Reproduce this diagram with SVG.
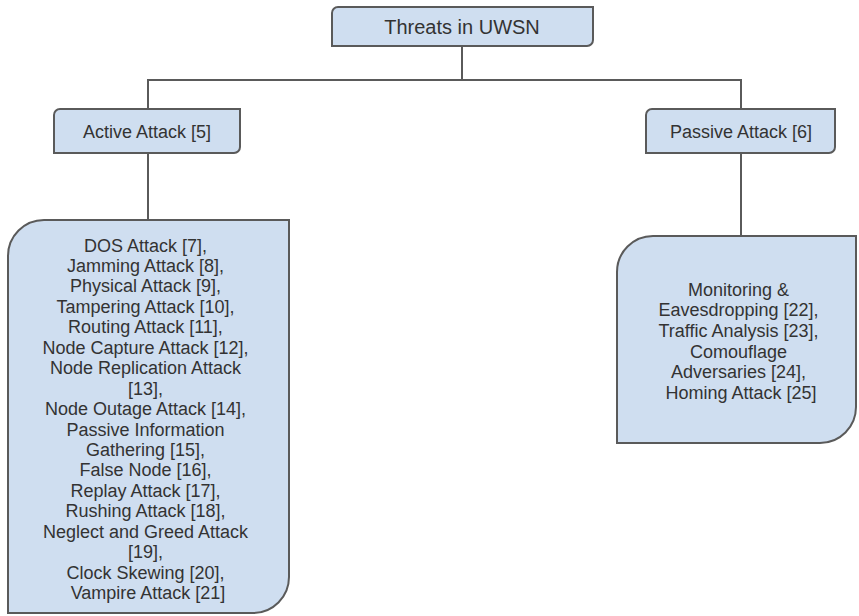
<svg xmlns="http://www.w3.org/2000/svg" width="859" height="616" viewBox="0 0 859 616">
  <style>
    .box { fill: #cfdef0; stroke: #5a5a5a; stroke-width: 2; }
    .lbl { font-family: "Liberation Sans", Arial, sans-serif; font-size: 18px; fill: #333; text-anchor: middle; }
    .wire { fill: none; stroke: #5a5a5a; stroke-width: 2; }
  </style>
  <rect width="859" height="616" fill="#ffffff"/>

  <!-- tree connectors -->
  <g id="connectors">
    <path class="wire" d="M462,46 V80"/>
    <path class="wire" d="M148,109 V80 H741 V109"/>
    <path class="wire" d="M148,153 V220"/>
    <path class="wire" d="M741,153 V236"/>
  </g>

  <!-- root -->
  <g id="threats">
    <path class="box" d="M338,7 H593 V40 A6,6 0 0 1 587,46 H332 V13 A6,6 0 0 1 338,7 Z"/>
    <text class="lbl" x="462" y="34" style="font-size:20px">Threats in UWSN</text>
  </g>

  <g id="active">
    <path class="box" d="M60,109 H240 V147 A6,6 0 0 1 234,153 H54 V115 A6,6 0 0 1 60,109 Z"/>
    <text class="lbl" x="147" y="138">Active Attack [5]</text>
  </g>

  <g id="passive">
    <path class="box" d="M652,109 H835 V147 A6,6 0 0 1 829,153 H646 V115 A6,6 0 0 1 652,109 Z"/>
    <text class="lbl" x="741" y="138">Passive Attack [6]</text>
  </g>

  <g id="active-list">
    <path class="box" d="M44,220 H289 V577 A36,36 0 0 1 253,613 H8 V256 A36,36 0 0 1 44,220 Z"/>
    <text class="lbl">
      <tspan x="148" y="251.5">DOS Attack [7],</tspan>
      <tspan x="148" y="271.9">Jamming Attack [8],</tspan>
      <tspan x="148" y="292.4">Physical Attack [9],</tspan>
      <tspan x="148" y="312.8">Tampering Attack [10],</tspan>
      <tspan x="148" y="333.3">Routing Attack [11],</tspan>
      <tspan x="148" y="353.7">Node Capture Attack [12],</tspan>
      <tspan x="148" y="374.2">Node Replication Attack</tspan>
      <tspan x="148" y="394.6">[13],</tspan>
      <tspan x="148" y="415.1">Node Outage Attack [14],</tspan>
      <tspan x="148" y="435.5">Passive Information</tspan>
      <tspan x="148" y="456.0">Gathering [15],</tspan>
      <tspan x="148" y="476.4">False Node [16],</tspan>
      <tspan x="148" y="496.9">Replay Attack [17],</tspan>
      <tspan x="148" y="517.3">Rushing Attack [18],</tspan>
      <tspan x="148" y="537.8">Neglect and Greed Attack</tspan>
      <tspan x="148" y="558.2">[19],</tspan>
      <tspan x="148" y="578.7">Clock Skewing [20],</tspan>
      <tspan x="148" y="599.1">Vampire Attack [21]</tspan>
    </text>
  </g>

  <g id="passive-list">
    <path class="box" d="M653,236 H856 V407 A36,36 0 0 1 820,443 H617 V272 A36,36 0 0 1 653,236 Z"/>
    <text class="lbl">
      <tspan x="741" y="295.5">Monitoring &amp;</tspan>
      <tspan x="741" y="316.2">Eavesdropping [22],</tspan>
      <tspan x="741" y="336.9">Traffic Analysis [23],</tspan>
      <tspan x="741" y="357.6">Comouflage</tspan>
      <tspan x="741" y="378.3">Adversaries [24],</tspan>
      <tspan x="741" y="399.0">Homing Attack [25]</tspan>
    </text>
  </g>
</svg>
